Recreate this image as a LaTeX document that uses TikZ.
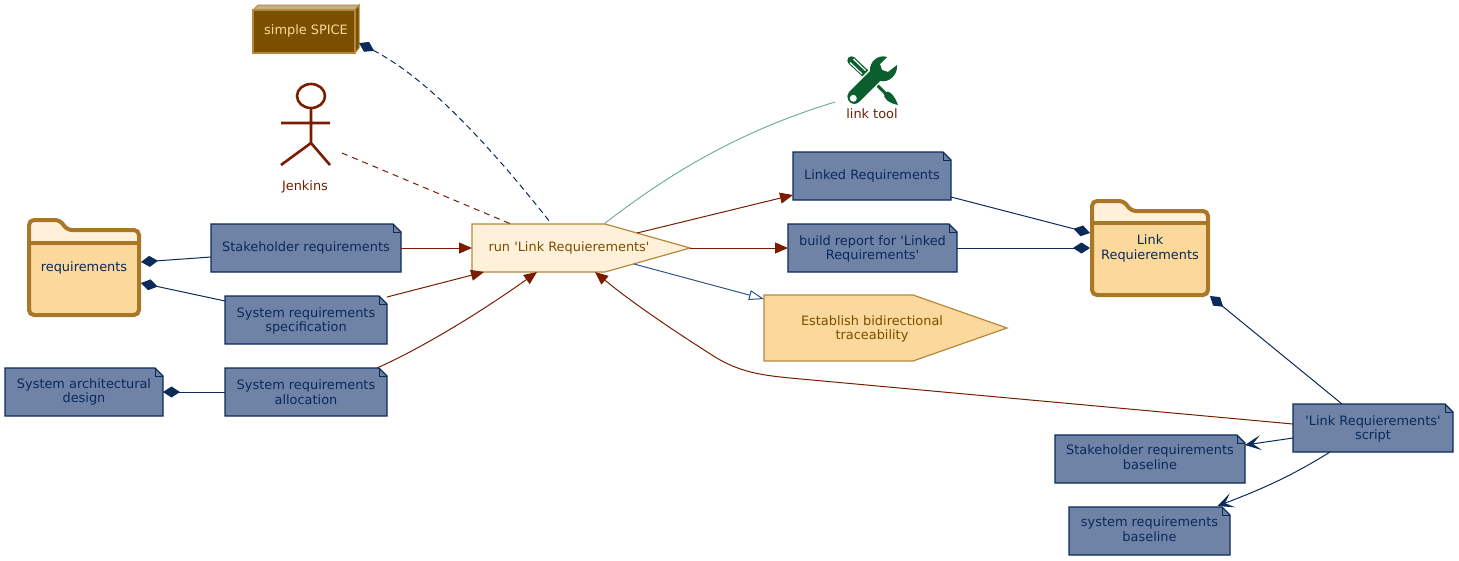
\documentclass[tikz,border=0pt]{standalone}
\usepackage{fontspec}
\usetikzlibrary{arrows.meta,calc}
\newfontfamily\dvs{DejaVu Sans}
\definecolor{noteFill}{HTML}{6E83A5}
\definecolor{navy}{HTML}{0B2A5A}
\definecolor{paleFill}{HTML}{FFF0D9}
\definecolor{goldFill}{HTML}{FBD89B}
\definecolor{goldEdge}{HTML}{B4893F}
\definecolor{folderEdge}{HTML}{A87826}
\definecolor{brownText}{HTML}{7A4F00}
\definecolor{redEdge}{HTML}{7A1C00}
\definecolor{labelRed}{HTML}{6B2000}
\definecolor{tealEdge}{HTML}{72B09F}
\definecolor{toolGreen}{HTML}{0B5E2E}
\definecolor{blueEdge}{HTML}{2F5486}
\tikzset{
  lbl/.style={font=\dvs\fontsize{12.9}{14.7}\selectfont,align=center,inner sep=0pt,outer sep=0pt},
  noteshape/.style={fill=noteFill,draw=navy,line width=1.2pt,line join=miter},
  foldline/.style={draw=navy,line width=0.9pt},
  procshape/.style={draw=goldEdge,line width=1.2pt,line join=miter},
  redarrow/.style={draw=redEdge,line width=1pt,-{Triangle[length=13pt,width=11pt]}},
  redline/.style={draw=redEdge,line width=1pt},
  comp/.style={draw=navy,line width=1pt,{Diamond[length=17pt,width=11pt]}-},
  dep/.style={draw=navy,line width=1pt,-{Stealth[length=16pt,width=15pt,inset=8pt]}},
  inherit/.style={draw=blueEdge,line width=1pt,-{Triangle[open,length=15pt,width=10pt,fill=white]}},
}
% name, x1, y1, x2, y2, text, downward text offset
\newcommand{\notebox}[7]{%
  \pgfmathsetmacro{\nw}{#4-#2}\pgfmathsetmacro{\nh}{#5-#3}%
  \path[noteshape] (#2,#3) -- (#4-8,#3) -- (#4,#3+8) -- (#4,#5) -- (#2,#5) -- cycle;
  \path[foldline] (#4-8,#3) -- (#4-8,#3+8) -- (#4,#3+8);
  \node[lbl,minimum width=\nw pt,minimum height=\nh pt,text=navy] (#1) at ({(#2+#4)/2},{(#3+#5)/2+#7}) {#6};
}
% left, tabtop, tabend, bodytop, divider, right, bottom
\newcommand{\folderbox}[7]{%
  \fill[goldFill,rounded corners=5pt] (#1,#2+5) -- (#1,#2) -- (#3,#2) -- (#3+7,#4) -- (#6,#4) -- (#6,#7) -- (#1,#7) -- cycle;
  \fill[paleFill,rounded corners=2pt] (#1+1,#2+1) -- (#3,#2+1) -- (#3+7,#4+1) -- (#6-1,#4+1) -- (#6-1,#5) -- (#1+1,#5) -- cycle;
  \draw[folderEdge,line width=4pt] (#1,#5) -- (#6,#5);
  \draw[folderEdge,line width=4pt,rounded corners=5pt] (#1,#2+6) -- (#1,#2) -- (#3,#2) -- (#3+7,#4) -- (#6,#4) -- (#6,#7) -- (#1,#7) -- (#1,#2+6);
}
\begin{document}
\begin{tikzpicture}[x=1pt,y=-1pt]
\useasboundingbox (0,0) rectangle (1459,560);

% --- folders
\folderbox{29}{220}{60}{230}{243}{139}{315}
\node[lbl,minimum width=114pt,minimum height=99pt,text=navy] (req) at (84,268) {requirements};
\folderbox{1092}{201}{1124}{211}{223}{1208}{295}
\node[lbl,minimum width=120pt,minimum height=98pt,text=navy] (linkreq) at (1150,248.5) {Link\\Requierements};

% --- notes
\notebox{stake}{211}{224}{401}{272}{Stakeholder requirements}{0}
\notebox{spec}{225}{296}{387}{344}{System requirements\\specification}{1}
\notebox{arch}{5}{368}{163}{416}{System architectural\\design}{0}
\notebox{alloc}{225}{368}{387}{416}{System requirements\\allocation}{0}
\notebox{linked}{793}{152}{951}{200}{Linked Requirements}{0}
\notebox{build}{788}{224}{957}{272}{build report for 'Linked\\Requirements'}{1}
\notebox{script}{1293}{404}{1453}{452}{'Link Requierements'\\script}{1}
\notebox{stakebase}{1055}{435}{1245}{483}{Stakeholder requirements\\baseline}{-2}
\notebox{sysbase}{1069}{507}{1230}{555}{system requirements\\baseline}{-2}

% --- processes
\path[procshape,fill=paleFill] (472,224) -- (605,224) -- (690,248) -- (605,272) -- (472,272) -- cycle;
\node[lbl,minimum width=218pt,minimum height=48pt,text=brownText] (run) at (581,248) {\hspace*{-24pt}run 'Link Requierements'};
\path[procshape,fill=goldFill] (764,295) -- (913,295) -- (1007,328) -- (913,361) -- (764,361) -- cycle;
\node[lbl,minimum width=243pt,minimum height=66pt,text=brownText] (bidir) at (885.5,329) {\hspace*{-27pt}Establish bidirectional\\\hspace*{-27pt}traceability};

% --- simple SPICE
\path[fill=brownText!45!white,draw=goldEdge,line width=1pt] (253,10) -- (258,5) -- (359,5) -- (355,10) -- cycle;
\path[fill=brownText,draw=goldEdge,line width=1pt] (355,10) -- (359,5) -- (359,48) -- (355,53) -- cycle;
\path[fill=brownText,draw=goldEdge,line width=1.2pt] (253,10) rectangle (355,53);
\node[lbl,minimum width=106pt,minimum height=44pt,text=goldFill] (spice) at (306,31) {simple SPICE};

% --- actor
\draw[redEdge,line width=2.6pt] (311,96) ellipse [x radius=14,y radius=12];
\draw[redEdge,line width=2.6pt,line join=miter] (311,108) -- (311,143) -- (281,165) (311,143) -- (330,165) (281,123) -- (330,123);
\node[lbl,minimum width=49pt,minimum height=82pt] (actor) at (305.5,124) {};
\node[lbl,text=labelRed] (jenkins) at (305,186.5) {Jenkins};

% --- tool icon
\draw[toolGreen,line width=8.5pt,line cap=round] (851.5,60.5) -- (868,76);
\draw[white,line width=1.2pt] (850,62.5) -- (862,74);
\draw[white,line width=1.2pt] (853.5,59) -- (865.5,70.5);
\draw[toolGreen,line width=3pt] (868,76) -- (889,97);
\fill[toolGreen] (884,93) .. controls (888,89) and (894,94) .. (898,105) .. controls (889,103) and (883,99) .. (884,93) -- cycle;
\path[draw=white,line width=3pt,fill=toolGreen,line join=round]
  (887,57) .. controls (878,54) and (869,62) .. (870,71) -- (849,92)
  .. controls (845,97) and (849,104) .. (854,104) .. controls (856,104) and (858,103) .. (859,102)
  -- (880,81) .. controls (889,83) and (898,75) .. (897,65) -- (888,72) -- (882,70) -- (880,64) -- cycle;
\fill[toolGreen]
  (887,57) .. controls (878,54) and (869,62) .. (870,71) -- (849,92)
  .. controls (845,97) and (849,104) .. (854,104) .. controls (856,104) and (858,103) .. (859,102)
  -- (880,81) .. controls (889,83) and (898,75) .. (897,65) -- (888,72) -- (882,70) -- (880,64) -- cycle;
\fill[white] (853.3,98.3) circle (3.5);
\node[lbl,minimum width=52pt,minimum height=50pt] (toolicon) at (872,80) {};
\node[lbl,text=labelRed] (tool) at (872,113.5) {link tool};

% --- connectors
\draw[redarrow] (stake.east) -- (run.west);
\draw[redarrow] (spec.north east) -- ($(run.south west)+(12,0)$);
\draw[redarrow] ($(alloc.north east)+(-10,0)$) .. controls ($(alloc.north east)+(35,-20)$) and ($(run.south)+(-100,40)$) .. ($(run.south)+(-44,0)$);
\draw[redarrow] ($(script.west)+(0,-5)$) -- ($(script.west)+(-503,-51)$) .. controls ($(script.west)+(-533,-54)$) and ($(script.west)+(-553,-57)$) .. ($(run.south)+(134,85)$) .. controls ($(run.south)+(98,62)$) and ($(run.south)+(54,33)$) .. ($(run.south)+(14,0)$);
\draw[redarrow] ($(run.center)+(56,-15)$) -- ($(linked.west)+(0,19)$);
\draw[redarrow] (run.east) -- ($(build.west)+(0,-1)$);
\draw[inherit] ($(run.center)+(53,16)$) -- ($(bidir.west)+(0,-30)$);
\draw[redline,dash pattern=on 6pt off 5pt] ($(actor.south east)+(12,-12)$) -- ($(run.north)+(-70,0)$);
\draw[draw=tealEdge,line width=1pt] ($(toolicon.south west)+(-11,-3)$) .. controls ($(toolicon.south west)+(-96,23)$) and ($(run.north)+(99,-59)$) .. ($(run.north)+(23,0)$);
\draw[draw=navy,line width=1pt,dash pattern=on 6pt off 4pt,{Diamond[length=17pt,width=11pt]}-] ($(spice.south east)+(0,-10)$) .. controls ($(spice.south east)+(76,29)$) and ($(run.north)+(-76,-59)$) .. ($(run.north)+(-31,-2)$);
\draw[comp] ($(req.east)+(0,-6)$) -- ($(stake.west)+(0,9)$);
\draw[comp] ($(req.east)+(0,15)$) -- ($(spec.west)+(0,-20)$);
\draw[comp] (arch.east) -- (alloc.west);
\draw[comp] ($(linkreq.west)+(0,-15.5)$) -- ($(linked.south east)+(0,-3)$);
\draw[comp] ($(linkreq.west)+(0,-0.5)$) -- ($(build.east)+(0,-1)$);
\draw[comp] ($(linkreq.south east)+(0,-1.5)$) -- ($(script.north)+(-31,-1)$);
\draw[dep] ($(script.west)+(0,9)$) -- ($(stakebase.east)+(0,-12)$);
\draw[dep] ($(script.south)+(-43,-1)$) .. controls ($(script.south)+(-83,24)$) and ($(sysbase.north)+(110,-15)$) .. ($(sysbase.north)+(68,1)$);
\end{tikzpicture}
\end{document}
